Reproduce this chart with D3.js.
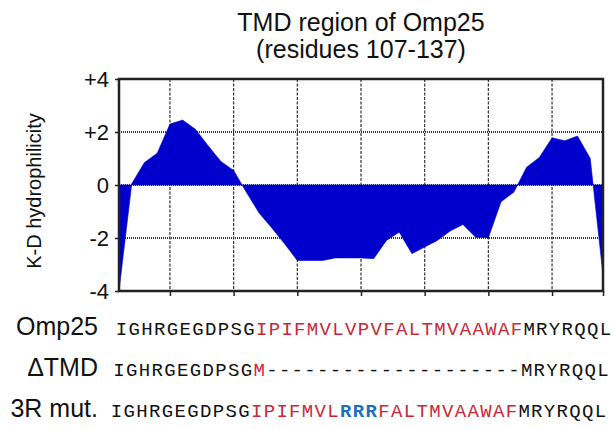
<!DOCTYPE html>
<html lang="en">
<meta charset="utf-8">
<style>
body { margin: 0; background: white; }
svg { display: block; font-family: "Liberation Sans", Arial, Helvetica, sans-serif; }
.area { fill: #0000cc; stroke: #0000cc; stroke-width: 0.6; }
.frame { fill: none; stroke: #222; stroke-width: 2.5; }
.hgrid line { stroke: #333; stroke-width: 2; stroke-dasharray: 1,1; }
.vgrid line { stroke: #333; stroke-width: 1.2; stroke-dasharray: 3,1.5; }
.axis path { display: none; }
.axis line { stroke: #222; stroke-width: 1.5; }
.axis text { font-size: 22px; fill: #111; font-family: "Liberation Sans", Arial, sans-serif; }
.title { font-size: 25px; fill: #111; text-anchor: middle; }
.ylabel { font-size: 20px; fill: #111; text-anchor: middle; }
.rowname { font-size: 25px; fill: #111; text-anchor: end; }
.seq { font-family: "Courier New", "Liberation Mono", monospace; font-size: 19px; text-anchor: middle; }
</style>
<svg width="614" height="429"></svg>
<script src="https://cdn.jsdelivr.net/npm/d3@7"></script>
<script>
// Omp25 sequence shown under the plot (one letter per residue column)
var omp25Seq = "IGHRGEGDPSGIPIFMVLVPVFALTMVAAWAFMRYRQQL".split("");

// K-D hydrophilicity, one value per residue
var hydro = [-4.0, 0.05, 0.85, 1.2, 2.3, 2.45, 2.1, 1.48, 0.89, 0.55,
             -0.27, -1.06, -1.62, -2.22, -2.85, -2.85, -2.85, -2.75, -2.75, -2.75,
             -2.78, -2.09, -1.78, -2.59, -2.34, -2.09, -1.74, -1.49, -1.97, -1.99,
             -0.63, -0.27, 0.67, 1.04, 1.78, 1.67, 1.85, 1.0, -3.4];

var yTicks = [4, 2, 0, -2, -4];
var yTickLabels = ["+4", "+2", "0", "-2", "-4"];
var xGrid = [5, 10, 15, 20, 25, 30, 35];

var rowNames = ["Omp25", "\u0394TMD", "3R mut."];
var rowSeqs = [
    "IGHRGEGDPSGIPIFMVLVPVFALTMVAAWAFMRYRQQL",
    "IGHRGEGDPSGM--------------------MRYRQQL",
    "IGHRGEGDPSGIPIFMVLRRRFALTMVAAWAFMRYRQQL"
];
var tmdStart = 12, tmdEnd = 32;     // TMD residues (red)
var mutPositions = [19, 20, 21];    // RRR in 3R mutant (blue)

var svg = d3.select("svg");
var pL = 119, pR = 603, pT = 79, pB = 291;

var xScale = d3.scaleLinear().domain([1, omp25Seq.length]).range([pL, pR]);
var yScale = d3.scaleLinear().domain([-4, 4]).range([pB, pT]);

var data = hydro.map(function(v, i) { return {r: i + 1, v: v}; });

// grid
svg.append("g").attr("class", "hgrid")
    .selectAll("line").data([2, 0, -2]).enter().append("line")
    .attr("x1", pL).attr("x2", pR)
    .attr("y1", function(d) { return yScale(d); })
    .attr("y2", function(d) { return yScale(d); });

svg.append("g").attr("class", "vgrid")
    .selectAll("line").data(xGrid).enter().append("line")
    .attr("y1", pT).attr("y2", pB)
    .attr("x1", function(d) { return xScale(d); })
    .attr("x2", function(d) { return xScale(d); });

// filled profile
var area = d3.area()
    .x(function(d) { return xScale(d.r); })
    .y0(yScale(0))
    .y1(function(d) { return yScale(d.v); });

svg.append("path")
    .datum(data)
    .attr("class", "area")
    .attr("d", area);

// axes
svg.append("g").attr("class", "axis")
    .attr("transform", "translate(" + pL + ",0)")
    .call(d3.axisLeft(yScale).tickValues(yTicks).tickSize(4).tickPadding(6)
        .tickFormat(function(d, i) { return yTickLabels[i]; }))
    .selectAll("text").attr("dy", "0.36em");

svg.append("g").attr("class", "axis")
    .attr("transform", "translate(0," + pB + ")")
    .call(d3.axisBottom(xScale).tickValues(xGrid.concat([omp25Seq.length])).tickSize(5).tickFormat(""));

svg.append("rect").attr("class", "frame")
    .attr("x", pL).attr("y", pT)
    .attr("width", pR - pL).attr("height", pB - pT);

// titles
svg.append("text").attr("class", "title").attr("x", (pL + pR) / 2).attr("y", 31).text("TMD region of Omp25");
svg.append("text").attr("class", "title").attr("x", (pL + pR) / 2).attr("y", 58).text("(residues 107-137)");

svg.append("text").attr("class", "ylabel")
    .attr("transform", "translate(41,191) rotate(-90)")
    .text("K-D hydrophilicity");

// sequence rows
var rowY = [335, 376, 417];
var rowShift = [2.5, 0, -2.5];

rowNames.forEach(function(name, k) {
    svg.append("text").attr("class", "rowname")
        .attr("x", 98).attr("y", rowY[k]).text(name);

    svg.append("g").selectAll("text")
        .data(rowSeqs[k].split(""))
        .enter().append("text")
        .attr("class", "seq")
        .attr("x", function(d, i) { return xScale(i + 1) + rowShift[k]; })
        .attr("y", rowY[k])
        .attr("fill", function(d, i) {
            var p = i + 1;
            if (k == 2 && mutPositions.indexOf(p) >= 0) return "#1f6fbf";
            if (p >= tmdStart && p <= tmdEnd && d != "-") return "#c8283a";
            return "#111";
        })
        .attr("font-weight", function(d, i) {
            return (k == 2 && mutPositions.indexOf(i + 1) >= 0) ? "bold" : null;
        })
        .text(function(d) { return d; });
});
</script>
</html>
